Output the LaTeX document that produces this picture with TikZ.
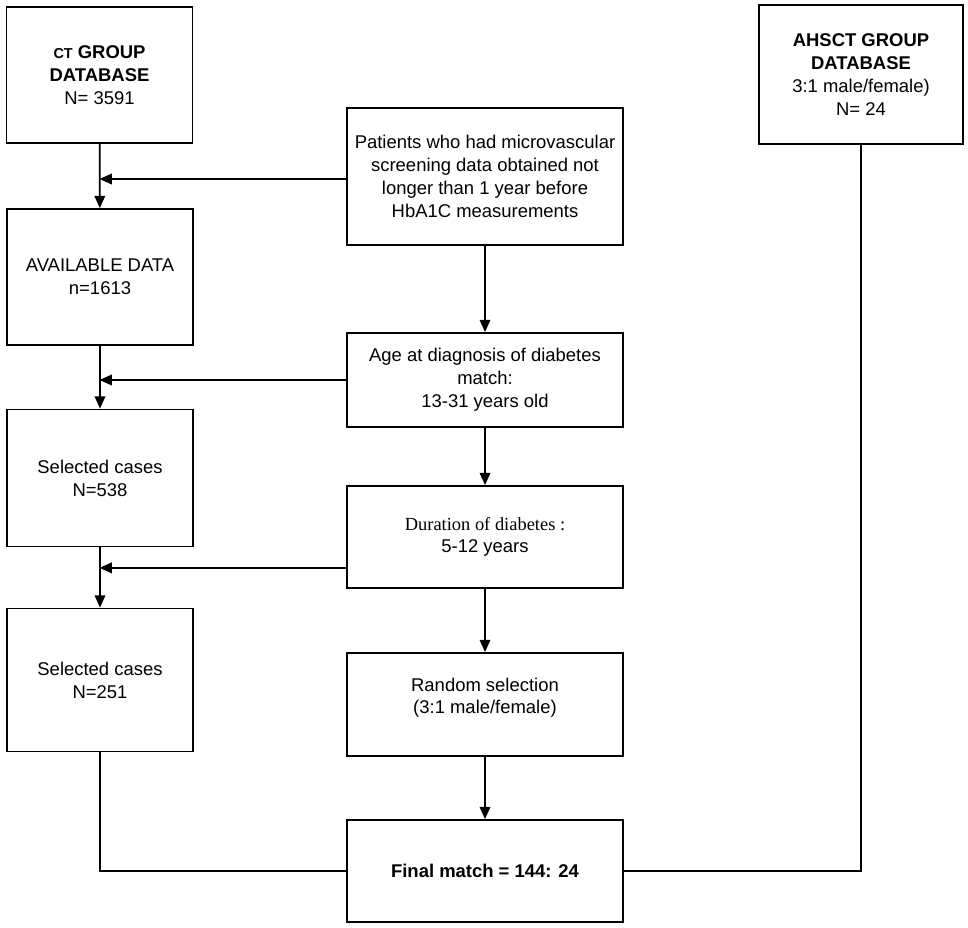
\documentclass[tikz,border=0pt]{standalone}
\usepackage{fontspec}
\setmainfont{Liberation Sans}
\newfontfamily\timesfont{Liberation Serif}
\usetikzlibrary{arrows.meta}

\begin{document}
\begin{tikzpicture}[x=0.02cm, y=-0.02cm, >={Triangle[length=7pt,width=6pt]},
  every path/.style={line width=1pt},
  box/.style={draw, line width=1pt, align=center, font=\fontsize{10.5}{13}\selectfont, inner sep=2pt},
  leftbox/.style={box, minimum width=3.72cm},
  midbox/.style={box, minimum width=5.52cm}]
\useasboundingbox (0,0) rectangle (968,928);
% left column
\node[leftbox, minimum height=2.72cm] (ct) at (99.5,75) {\textbf{{\fontsize{8.2}{9}\selectfont CT} GROUP}\\\textbf{DATABASE}\\N= 3591};
\node[leftbox, minimum height=2.72cm] (avail) at (100,277) {AVAILABLE DATA\\n=1613};
\node[leftbox, minimum height=2.74cm] (sel1) at (100,478) {Selected cases\\N=538};
\node[leftbox, minimum height=2.86cm] (sel2) at (100,680) {Selected cases\\N=251};
% middle column
\node[midbox, minimum height=2.74cm] (pat) at (485,176.5) {Patients who had microvascular\\screening data obtained not\\longer than 1 year before\\HbA1C measurements};
\node[midbox, minimum height=1.88cm] (age) at (485,380) {Age at diagnosis of diabetes\\match:\\13-31 years old};
\node[midbox, minimum height=2.04cm] (dur) at (485,537) {{\timesfont Duration of diabetes :}\\5-12 years};
\node[midbox, minimum height=2.06cm, text depth=0.35cm] (rand) at (485,704.5) {Random selection\\(3:1 male/female)};
\node[midbox, minimum height=2.04cm] (final) at (485,871) {\textbf{Final match = 144: 24}};
% right column
\node[box, minimum width=4.08cm, minimum height=2.78cm] (ahsct) at (861,74.5) {\textbf{AHSCT GROUP}\\\textbf{DATABASE}\\3:1 male/female)\\N= 24};
% connectors
\draw[->] (ct) -- (avail);
\draw[->] (avail) -- (sel1);
\draw[->] (sel1) -- (sel2);
\draw[->] ([yshift=-0.05cm]pat.west) -- ([yshift=-0.05cm]pat.west -| ct.south);
\draw[->] (age.west) -- (age.west -| ct.south);
\draw[->] ([yshift=0.42cm]dur.south west) -- ([yshift=0.42cm]dur.south west -| ct.south);
\draw[->] (pat) -- (age);
\draw[->] (age) -- (dur);
\draw[->] (dur) -- (rand);
\draw[->] (rand) -- (final);
\draw (sel2.south) |- (final.west);
\draw (ahsct.south) |- (final.east);
\end{tikzpicture}
\end{document}
